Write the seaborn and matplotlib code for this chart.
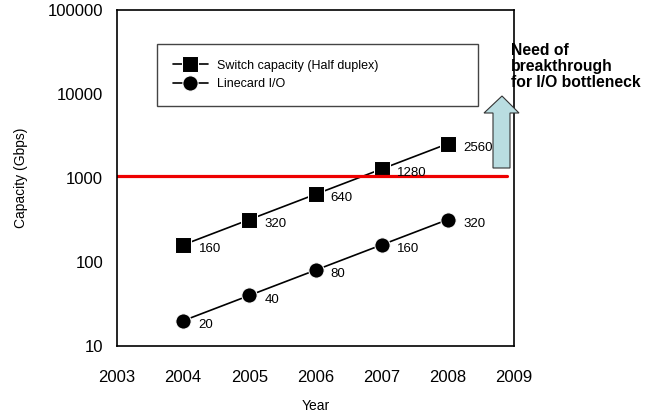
import pandas as pd
import seaborn as sns
import matplotlib.pyplot as plt
from matplotlib.patches import Polygon

# -------------------------
# Data
# -------------------------
years = [2004, 2005, 2006, 2007, 2008]
switch_capacity = [160, 320, 640, 1280, 2560]
linecard_io = [20, 40, 80, 160, 320]
limit_level = 1070
x_ticks = [2003, 2004, 2005, 2006, 2007, 2008, 2009]
y_ticks = [10, 100, 1000, 10000, 100000]

switch = pd.DataFrame({"Year": years, "Capacity": switch_capacity})
linecard = pd.DataFrame({"Year": years, "Capacity": linecard_io})

# -------------------------
# Plot
# -------------------------
sns.set_style("white")
plt.rcParams["font.family"] = ["Liberation Sans", "DejaVu Sans"]
plt.rcParams["text.color"] = "black"
plt.rcParams["axes.labelcolor"] = "black"

fig = plt.figure(figsize=(6.6, 4.19), dpi=100)
ax = fig.add_axes([0.1773, 0.1742, 0.6015, 0.8019])

sns.lineplot(data=switch, x="Year", y="Capacity", marker="s", markersize=11,
             color="black", linewidth=1.2, label="Switch capacity (Half duplex)", ax=ax)
sns.lineplot(data=linecard, x="Year", y="Capacity", marker="o", markersize=11,
             color="black", linewidth=1.2, label="Linecard I/O", ax=ax)

for x, v in zip(years, switch_capacity):
    ax.annotate(str(v), (x, v), xytext=(11, -3), textcoords="offset points",
                va="center", ha="left", fontsize=9.5)
for x, v in zip(years, linecard_io):
    ax.annotate(str(v), (x, v), xytext=(11, -3), textcoords="offset points",
                va="center", ha="left", fontsize=9.5)

ax.plot([2003, 2008.9], [limit_level, limit_level], color="#ee0000", linewidth=2.3)

ax.set_yscale("log")
ax.set_xlim(2003, 2009)
ax.set_ylim(10, 100000)
ax.set_xticks(x_ticks)
ax.set_xticklabels([str(t) for t in x_ticks])
ax.set_yticks(y_ticks)
ax.set_yticklabels([str(t) for t in y_ticks])
ax.minorticks_off()
ax.tick_params(axis="both", direction="in", length=5, width=1, colors="black", labelsize=12)
ax.tick_params(axis="x", pad=17)
ax.tick_params(axis="y", pad=10)

for s in ax.spines.values():
    s.set_visible(True)
    s.set_color("black")
    s.set_linewidth(1.2)

ax.set_xlabel("Year", fontsize=10, labelpad=10)
ax.set_ylabel("Capacity (Gbps)", fontsize=10, labelpad=14)

leg = ax.legend(loc="upper left", bbox_to_anchor=(0.10, 0.90, 0.81, 0.0),
                mode="expand", borderaxespad=0, fontsize=9, borderpad=1.3,
                labelspacing=0.5, handlelength=2.8, handletextpad=0.7,
                fancybox=False, edgecolor="#444444", framealpha=1)
leg.get_frame().set_linewidth(1.0)

# arrow on the right, in figure pixels
W, H = 660, 419
pts = [(493, 168), (510, 168), (510, 113), (519, 113), (502, 96), (484, 113), (493, 113)]
arrow = Polygon([(x / W, 1 - y / H) for x, y in pts], closed=True,
                transform=fig.transFigure, facecolor="#b9dde1", edgecolor="#333333",
                linewidth=0.8, zorder=5)
fig.patches.append(arrow)

fig.text(511 / W, 1 - 43 / H, "Need of\nbreakthrough\nfor I/O bottleneck",
         fontsize=11.3, fontweight="bold", ha="left", va="top", linespacing=1.1)

fig.savefig("out.png", dpi=100)
